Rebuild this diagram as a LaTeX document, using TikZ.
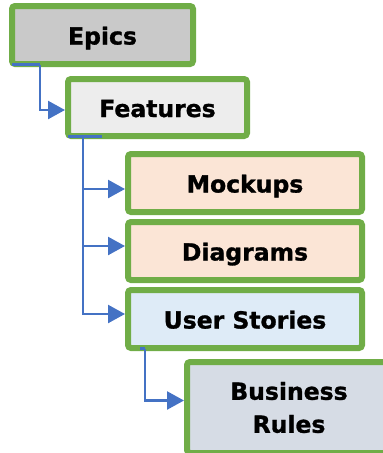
\documentclass[tikz,border=0pt]{standalone}
\usepackage{fontspec}
\setmainfont{DejaVu Sans}[BoldFeatures={FakeBold=1.2}]
\usetikzlibrary{arrows.meta,calc}
\definecolor{gborder}{HTML}{70AD47}
\definecolor{conn}{HTML}{4472C4}
\definecolor{fepics}{HTML}{C9C9C9}
\definecolor{ffeat}{HTML}{EDEDED}
\definecolor{forange}{HTML}{FBE5D6}
\definecolor{fblue}{HTML}{DEEBF7}
\definecolor{fslate}{HTML}{D6DCE5}
\tikzset{
  card/.style={draw=gborder, line width=6pt, rounded corners=3pt, inner sep=0pt,
    font=\fontsize{23.5}{33}\selectfont\bfseries, align=center},
  oneline/.style={text height=19pt, text depth=0pt},
  link/.style={draw=conn, line width=2.4pt, -{Triangle[length=17pt,width=18pt]}},
  plainlink/.style={draw=conn, line width=2.4pt}
}
\begin{document}
\begin{tikzpicture}[x=1pt,y=1pt]
\useasboundingbox (0,0) rectangle (383,-453);
\clip (0,0) rectangle (383,-453);
\node[card, oneline, fill=fepics, minimum width=181pt, minimum height=58pt] (Epics) at (102.5,-35) {Epics};
\node[card, oneline, fill=ffeat, minimum width=179pt, minimum height=57pt] (Features) at (157.5,-107.5) {Features};
\node[card, oneline, fill=forange, minimum width=234pt, minimum height=58pt] (Mockups) at (245,-183) {Mockups};
\node[card, oneline, fill=forange, minimum width=234pt, minimum height=58pt] (Diagrams) at (245,-251) {Diagrams};
\node[card, oneline, fill=fblue, minimum width=234pt, minimum height=58pt] (UserStories) at (245,-319) {User Stories};
\node[card, fill=fslate, minimum width=204pt, minimum height=91pt] (Business) at (289,-407.5) {Business\\Rules};
% connectors
\draw[plainlink] ($(Epics.south west)+(3pt,2.5pt)$) -- ++(28pt,0) coordinate (e1);
\draw[link] (e1) |- ($(Features.west)+(0,-2.5pt)$);
\draw[plainlink] ($(Features.south west)+(3pt,2.5pt)$) -- ++(34pt,0);
\coordinate (f1) at ($(Features.south west)+(18pt,2.5pt)$);
\draw[link] (f1) |- ($(Mockups.west)+(0,-6pt)$);
\draw[link] (f1) |- ($(Diagrams.west)+(0,5pt)$);
\draw[link] (f1) |- ($(UserStories.west)+(0,5pt)$);
\draw[plainlink] ($(UserStories.south west)+(15pt,2.5pt)$) -- ++(5pt,0) coordinate (u1);
\draw[link] (u1) |- ($(Business.west)+(0,7pt)$);
\end{tikzpicture}
\end{document}
